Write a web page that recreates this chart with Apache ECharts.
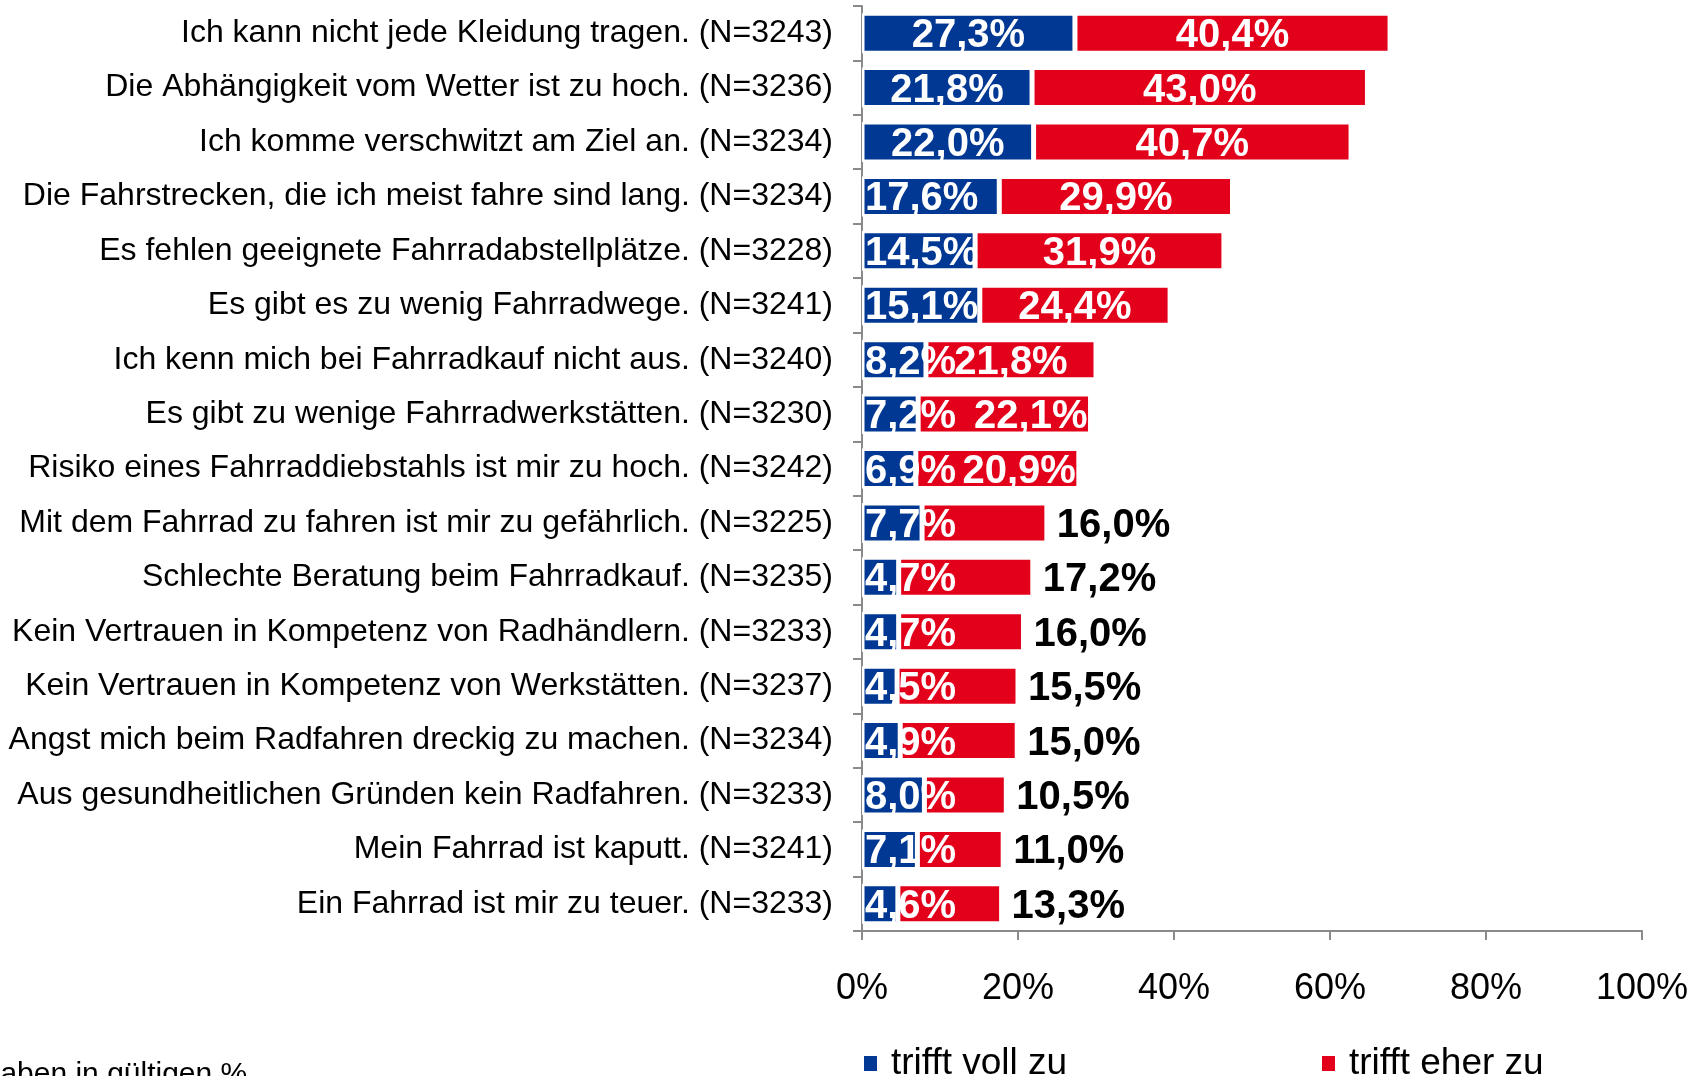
<!DOCTYPE html>
<html>
<head>
<meta charset="utf-8">
<script src="https://cdn.jsdelivr.net/npm/echarts@6/dist/echarts.min.js"></script>
<style>
  html, body { margin: 0; padding: 0; background: #fff; }
  #chart { width: 1705px; height: 1076px; }
</style>
</head>
<body>
<div id="chart"></div>
<script>
const categories = [
  'Ich kann nicht jede Kleidung tragen. (N=3243)',
  'Die Abhängigkeit vom Wetter ist zu hoch. (N=3236)',
  'Ich komme verschwitzt am Ziel an. (N=3234)',
  'Die Fahrstrecken, die ich meist fahre sind lang. (N=3234)',
  'Es fehlen geeignete Fahrradabstellplätze. (N=3228)',
  'Es gibt es zu wenig Fahrradwege. (N=3241)',
  'Ich kenn mich bei Fahrradkauf nicht aus. (N=3240)',
  'Es gibt zu wenige Fahrradwerkstätten. (N=3230)',
  'Risiko eines Fahrraddiebstahls ist mir zu hoch. (N=3242)',
  'Mit dem Fahrrad zu fahren ist mir zu gefährlich. (N=3225)',
  'Schlechte Beratung beim Fahrradkauf. (N=3235)',
  'Kein Vertrauen in Kompetenz von Radhändlern. (N=3233)',
  'Kein Vertrauen in Kompetenz von Werkstätten. (N=3237)',
  'Angst mich beim Radfahren dreckig zu machen. (N=3234)',
  'Aus gesundheitlichen Gründen kein Radfahren. (N=3233)',
  'Mein Fahrrad ist kaputt. (N=3241)',
  'Ein Fahrrad ist mir zu teuer. (N=3233)'
]
const voll = [27.3, 21.8, 22.0, 17.6, 14.5, 15.1, 8.2, 7.2, 6.9, 7.7, 4.7, 4.7, 4.5, 4.9, 8.0, 7.1, 4.6]
const eher = [40.4, 43.0, 40.7, 29.9, 31.9, 24.4, 21.8, 22.1, 20.9, 16.0, 17.2, 16.0, 15.5, 15.0, 10.5, 11.0, 13.3]
const xTicks = [0, 20, 40, 60, 80, 100]
const seriesNames = ['trifft voll zu', 'trifft eher zu']

// where the red segment labels sit (as in the original slide)
const eherLabelPos = ['inside', 'inside', 'inside', 'inside', 'inside', 'inside', 'inside',
  'insideRight', 'insideRight', 'right', 'right', 'right', 'right', 'right', 'right', 'right', 'right']

const FONT = "'Liberation Sans', Arial, sans-serif"
const BLUE = '#003893'
const RED = '#e2001a'
const AXIS = '#8a8a8a'

const fmt = v => v.toFixed(1).replace('.', ',') + '%'

const chart = echarts.init(document.getElementById('chart'))

const vollData = voll.map(v => ({
  value: v,
  label: { position: v < 20 ? 'insideLeft' : 'inside', distance: 3 }
}))
const eherData = eher.map((v, i) => {
  const pos = eherLabelPos[i]
  return {
    value: v,
    label: {
      position: pos,
      distance: pos === 'right' ? 10 : 3,
      color: pos === 'right' ? '#000' : '#fff'
    }
  }
})

const legendBase = {
  padding: 0, top: 1045, icon: 'rect', itemWidth: 15, itemHeight: 17,
  textStyle: { fontSize: 37, fontFamily: FONT, color: '#000', padding: [0, 0, 0, 8] }
}

chart.setOption({
  animation: false,
  grid: { left: 862, right: 63, top: 6, bottom: 145, outerBoundsMode: 'none', containLabel: false },
  legend: [
    { ...legendBase, data: [seriesNames[0]], left: 862 },
    { ...legendBase, data: [seriesNames[1]], left: 1320 }
  ],
  xAxis: {
    type: 'value',
    min: xTicks[0],
    max: xTicks[xTicks.length - 1],
    interval: xTicks[1] - xTicks[0],
    splitLine: { show: false },
    axisLine: { show: true, lineStyle: { color: AXIS, width: 2 } },
    axisTick: { show: true, length: 9, lineStyle: { color: AXIS, width: 2 } },
    axisLabel: {
      formatter: '{value}%', margin: 40,
      fontSize: 36, fontFamily: FONT, color: '#000'
    }
  },
  yAxis: {
    type: 'category',
    inverse: true,
    data: categories,
    axisLine: { show: true, lineStyle: { color: AXIS, width: 2 } },
    axisTick: { show: true, length: 9, lineStyle: { color: AXIS, width: 2 } },
    axisLabel: {
      margin: 29, fontSize: 32, fontFamily: FONT, color: '#000',
      padding: [8, 0, 0, 0]
    }
  },
  series: [
    {
      name: seriesNames[0],
      type: 'bar',
      stack: 'total',
      z: 3,
      barWidth: 40,
      itemStyle: { color: BLUE, borderColor: '#fff', borderWidth: 2.5 },
      label: {
        show: true, color: '#fff', fontWeight: 'bold', fontSize: 40, fontFamily: FONT,
        offset: [0, 3],
        formatter: p => fmt(p.value)
      },
      data: vollData
    },
    {
      name: seriesNames[1],
      type: 'bar',
      stack: 'total',
      barWidth: 40,
      itemStyle: { color: RED, borderColor: '#fff', borderWidth: 2.5 },
      label: {
        show: true, fontWeight: 'bold', fontSize: 40, fontFamily: FONT,
        offset: [0, 3],
        formatter: p => fmt(p.value)
      },
      data: eherData
    }
  ],
  graphic: [
    {
      type: 'text',
      x: -53,
      y: 1060,
      style: {
        text: 'Angaben in gültigen %',
        font: "30px 'Liberation Sans', Arial, sans-serif",
        fill: '#000'
      }
    }
  ]
})
</script>
</body>
</html>
